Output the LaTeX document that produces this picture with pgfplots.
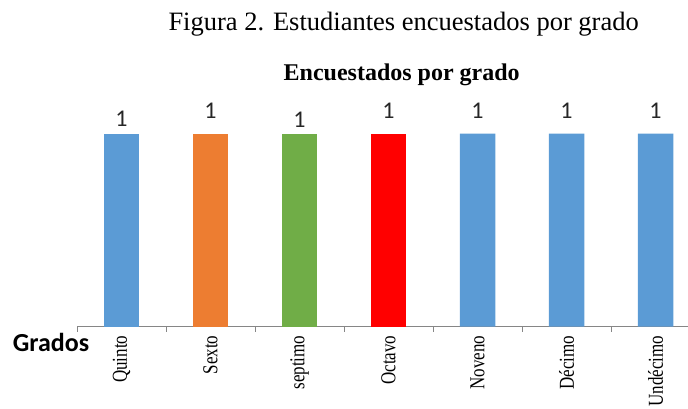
\documentclass[border=0pt]{standalone}
\usepackage{fontspec}
\setmainfont{Liberation Serif}
\newfontfamily\calibri{Carlito}
\usepackage{graphicx}
\usepackage{pgfplots}
\pgfplotsset{compat=1.18}
\definecolor{BarBlue}{HTML}{5B9BD5}
\definecolor{BarOrange}{HTML}{ED7D31}
\definecolor{BarGreen}{HTML}{70AD47}
\definecolor{BarRed}{HTML}{FF0000}
\definecolor{AxisGray}{HTML}{868686}

% tick labels look a bit stretched across in the reference
\newcommand{\tl}[1]{\scalebox{1}[1.25]{#1}}

% one bar with its data label, label baseline raised by #1
\pgfplotsset{
  onebar/.style={
    draw=none, fill=#1, bar width=35.5pt, bar shift=0pt,
  },
  lbl/.style={
    nodes near coords={1},
    every node near coord/.style={font=\calibri\fontsize{24}{24}\selectfont,
      anchor=base, inner sep=0pt, yshift=#1, text=black!85},
  },
}

\begin{document}
\begin{tikzpicture}
\useasboundingbox (0pt,0pt) rectangle (688pt,408pt);
\node[anchor=base west, inner sep=0pt] at (168.3pt,377pt)
  {\fontsize{26.5}{26.5}\selectfont Figura 2. Estudiantes encuestados por grado};
\node[anchor=base west, inner sep=0pt] at (283.5pt,327.7pt)
  {\fontsize{24}{24}\selectfont\bfseries Encuestados por grado};
\node[anchor=base west, inner sep=0pt] at (12.7pt,57pt)
  {\calibri\fontsize{26}{26}\selectfont\bfseries Grados};
\begin{axis}[
  at={(77pt,81.5pt)}, anchor=south west,
  scale only axis, width=623pt, height=193pt,
  xmin=-0.5, xmax=6.5, ymin=0, ymax=1,
  axis x line*=bottom, axis y line=none,
  axis line style={AxisGray, line width=0.9pt},
  ybar, clip=false,
  xtick={0,...,6},
  xticklabels={\tl{Quinto},\tl{Sexto},\tl{septimo},\tl{Octavo},\tl{Noveno},\tl{Décimo},\tl{Undécimo}},
  major tick length=0pt,
  minor xtick={-0.5,0.5,...,6.5},
  minor tick length=5pt, tick align=outside,
  minor tick style={AxisGray, line width=0.9pt},
  xticklabel style={rotate=90, anchor=east, inner sep=0pt,
    font=\fontsize{17}{17}\selectfont},
  xticklabel shift=9pt,
  ytick=\empty,
]
\addplot[onebar=BarBlue, lbl=7.5pt] coordinates {(0,1)};
\addplot[onebar=BarOrange, lbl=15.5pt] coordinates {(1,1)};
\addplot[onebar=BarGreen, lbl=6pt] coordinates {(2,1)};
\addplot[onebar=BarRed, lbl=15pt] coordinates {(3,1)};
\addplot[onebar=BarBlue, lbl=15pt] coordinates {(4,1) (5,1) (6,1)};
\end{axis}
\end{tikzpicture}
\end{document}
